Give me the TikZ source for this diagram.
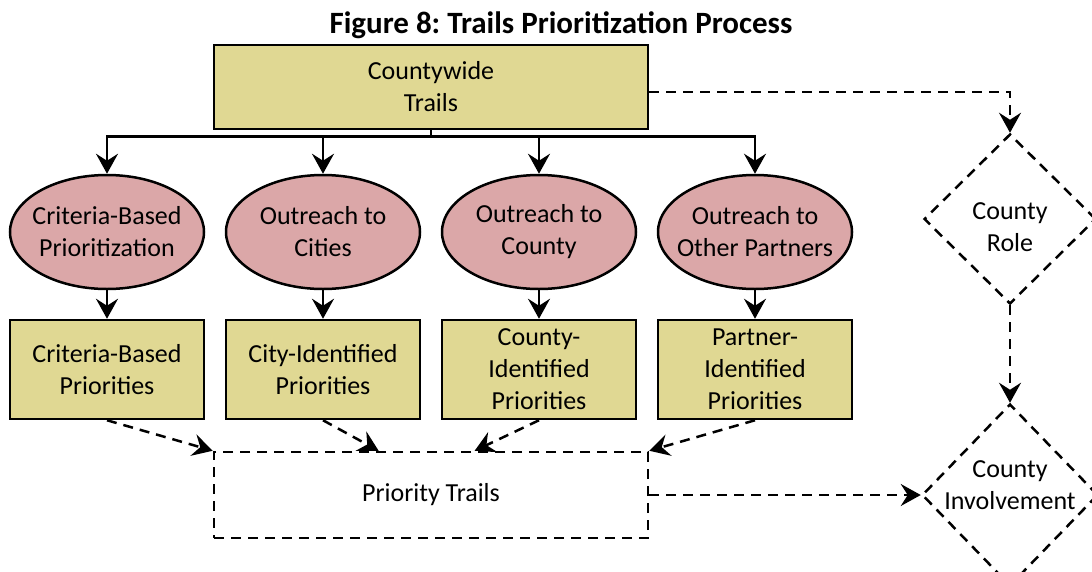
\documentclass[tikz,border=0pt]{standalone}
\usepackage{fontspec}
\setmainfont{Carlito}
\usetikzlibrary{arrows.meta,positioning,calc,shapes.geometric}

\definecolor{boxtan}{RGB}{224,216,147}
\definecolor{ovalrose}{RGB}{219,167,168}

\frenchspacing
\begin{document}
\begin{tikzpicture}[x=1pt,y=-1pt,
  font=\fontsize{26}{32}\selectfont,
  every node/.style={align=center,inner sep=0pt},
  tanbox/.style={draw,line width=2.5pt,fill=boxtan,minimum width=194pt,minimum height=99pt},
  rosy/.style={ellipse,draw,line width=2.5pt,fill=ovalrose,inner xsep=-16pt,
    minimum width=194pt,minimum height=114pt},
  dashy/.style={line width=2.5pt,dash pattern=on 10pt off 7pt},
  choice/.style={diamond,draw,dashy,minimum width=172pt,minimum height=170pt},
  link/.style={-{Stealth[length=20pt,width=22pt,inset=7pt]},line width=2.5pt},
  dashlink/.style={link,dashy}
]
\useasboundingbox (0,0) rectangle (1092,571);

% Title
\node[anchor=base] (title) at (561,33) {\fontsize{31}{36}\selectfont\bfseries Figure 8: Trails Prioritization Process};

% Top box
\node[tanbox,minimum width=434pt,minimum height=84pt] (cw) at (431,87) {Countywide\\Trails};

% Outreach ovals
\node[rosy] (e1) at (107,232) {Criteria-Based\\Prioritization};
\node[rosy] (e2) at (323,232) {Outreach to\\Cities};
\node[rosy] (e3) at (539,232) {Outreach to\\County};
\node[rosy] (e4) at (755,232) {Outreach to\\Other Partners};

% Priority boxes
\node[tanbox] (p1) at (107,369.5) {Criteria-Based\\Priorities};
\node[tanbox] (p2) at (323,369.5) {City-Identified\\Priorities};
\node[tanbox] (p3) at (539,369.5) {County-\\Identified\\Priorities};
\node[tanbox] (p4) at (755,369.5) {Partner-\\Identified\\Priorities};

% Result box
\node[draw,dashy,minimum width=434pt,minimum height=86pt] (pt) at (431,495) {Priority Trails};

% Decisions on the right
\node[choice,label={[yshift=-8pt]center:County\\Role}] (role) at (1010,219) {};
\node[choice,minimum width=176pt,minimum height=182pt,
  label={[yshift=10pt]center:County\\Involvement}] (inv) at (1010,495) {};

% Branches
\foreach \e in {e1,e2,e3,e4}
  \draw[link] (cw.south) -- ++(0,6) -| (\e.north);
\foreach \n in {1,2,3,4}
  \draw[link] (e\n.south) -- (p\n.north);

% Into the result box
\draw[dashlink] (p1.south) -- (pt.north west);
\draw[dashlink] (p2.south) -- ($(pt.north west)!0.38!(pt.north east)$);
\draw[dashlink] (p3.south) -- ($(pt.north west)!0.6!(pt.north east)$);
\draw[dashlink] (p4.south) -- (pt.north east);

% County side
\draw[dashlink] ([yshift=-5pt]cw.east) -| (role.north);
\draw[dashlink] (role.south) -- (inv.north);
\draw[dashlink] (pt.east) -- (inv.west);

\end{tikzpicture}
\end{document}
